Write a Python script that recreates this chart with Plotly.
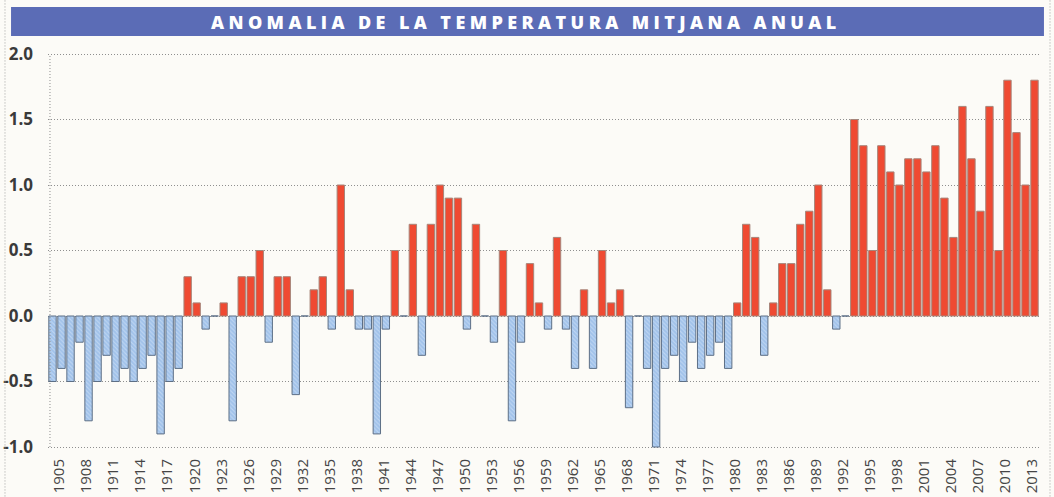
import plotly.graph_objects as go

years = list(range(1904, 2014))
anomaly = [
    -0.5, -0.4, -0.5, -0.2, -0.8, -0.5, -0.3, -0.5, -0.4, -0.5,
    -0.4, -0.3, -0.9, -0.5, -0.4, 0.3, 0.1, -0.1, 0.0, 0.1,
    -0.8, 0.3, 0.3, 0.5, -0.2, 0.3, 0.3, -0.6, 0.0, 0.2,
    0.3, -0.1, 1.0, 0.2, -0.1, -0.1, -0.9, -0.1, 0.5, 0.0,
    0.7, -0.3, 0.7, 1.0, 0.9, 0.9, -0.1, 0.7, 0.0, -0.2,
    0.5, -0.8, -0.2, 0.4, 0.1, -0.1, 0.6, -0.1, -0.4, 0.2,
    -0.4, 0.5, 0.1, 0.2, -0.7, 0.0, -0.4, -1.0, -0.4, -0.3,
    -0.5, -0.2, -0.4, -0.3, -0.2, -0.4, 0.1, 0.7, 0.6, -0.3,
    0.1, 0.4, 0.4, 0.7, 0.8, 1.0, 0.2, -0.1, 0.0, 1.5,
    1.3, 0.5, 1.3, 1.1, 1.0, 1.2, 1.2, 1.1, 1.3, 0.9,
    0.6, 1.6, 1.2, 0.8, 1.6, 0.5, 1.8, 1.4, 1.0, 1.8,
]
tick_years = list(range(1905, 2014, 3))
y_ticks = [-1.0, -0.5, 0.0, 0.5, 1.0, 1.5, 2.0]
y_labels = ["-1.0", "-0.5", "0.0", "0.5", "1.0", "1.5", "2.0"]
title_text = "ANOMALIA DE LA TEMPERATURA MITJANA ANUAL"

pos = [v if v > 0 else None for v in anomaly]
neg = [v if v <= 0 else None for v in anomaly]

fig = go.Figure()
fig.add_trace(go.Bar(
    x=years, y=neg, width=0.82,
    marker=dict(color="#a3c3ea",
                line=dict(color="#5d6f86", width=1),
                pattern=dict(shape="\\", bgcolor="#a1c2ea", fgcolor="#dce9f8",
                             size=3, solidity=0.35)),
    showlegend=False,
))
fig.add_trace(go.Bar(
    x=years, y=pos, width=0.82,
    marker=dict(color="#ef4a32", line=dict(color="#a7857a", width=1)),
    showlegend=False,
))

PAPER = "#fcfbf7"
GRID = "#8f8f8f"
fig.update_layout(
    width=1054, height=497,
    margin=dict(l=48, r=15, t=51, b=42),
    paper_bgcolor=PAPER, plot_bgcolor=PAPER,
    barmode="overlay",
    font=dict(family="Open Sans", color="#3a3a3a"),
    xaxis=dict(range=[1903.5, 2013.5], tickmode="array", tickvals=tick_years,
               ticktext=[str(t) for t in tick_years], tickangle=-90,
               tickfont=dict(size=15, color="#454545"), showgrid=False,
               zeroline=False, showline=False, ticks="", ticklabelshift=-2,
               automargin=False),
    yaxis=dict(range=[-1.061, 2.023], tickmode="array", tickvals=y_ticks,
               ticktext=y_labels, tickfont=dict(size=17, color="#3a3a3a", weight="bold"),
               showgrid=True, gridcolor=GRID, griddash="1px,2px", gridwidth=1,
               zeroline=False, showline=False, ticks="", ticklabelstandoff=14,
               automargin=False),
    shapes=[
        dict(type="rect", xref="paper", yref="paper", x0=-0.0373, x1=1.005,
             y0=1.0371, y1=1.1089, fillcolor="#5b6cb6", line=dict(width=0), layer="below"),
        dict(type="line", xref="paper", yref="y", x0=0.002, x1=0.002, y0=-1, y1=2,
             line=dict(color=GRID, width=1, dash="1px,2px")),
        dict(type="line", xref="paper", yref="paper", x0=-0.0434, x1=-0.0434,
             y0=-0.11, y1=1.13, line=dict(color="#a0a0a0", width=1, dash="1px,2px")),
        dict(type="line", xref="paper", yref="paper", x0=1.0111, x1=1.0111,
             y0=-0.11, y1=1.13, line=dict(color="#a0a0a0", width=1, dash="1px,2px")),
    ],
    annotations=[
        dict(xref="paper", yref="paper", x=0.4823, y=1.073, xanchor="center",
             yanchor="middle", showarrow=False,
             text='<span style="letter-spacing:4.4px">' + title_text + '</span>',
             font=dict(family="Open Sans", size=18, color="white", weight=800)),
    ],
)

fig.write_html("out.html",
               config={"displayModeBar": False},
               post_script="document.body.style.margin='0';document.body.style.overflow='hidden';")
